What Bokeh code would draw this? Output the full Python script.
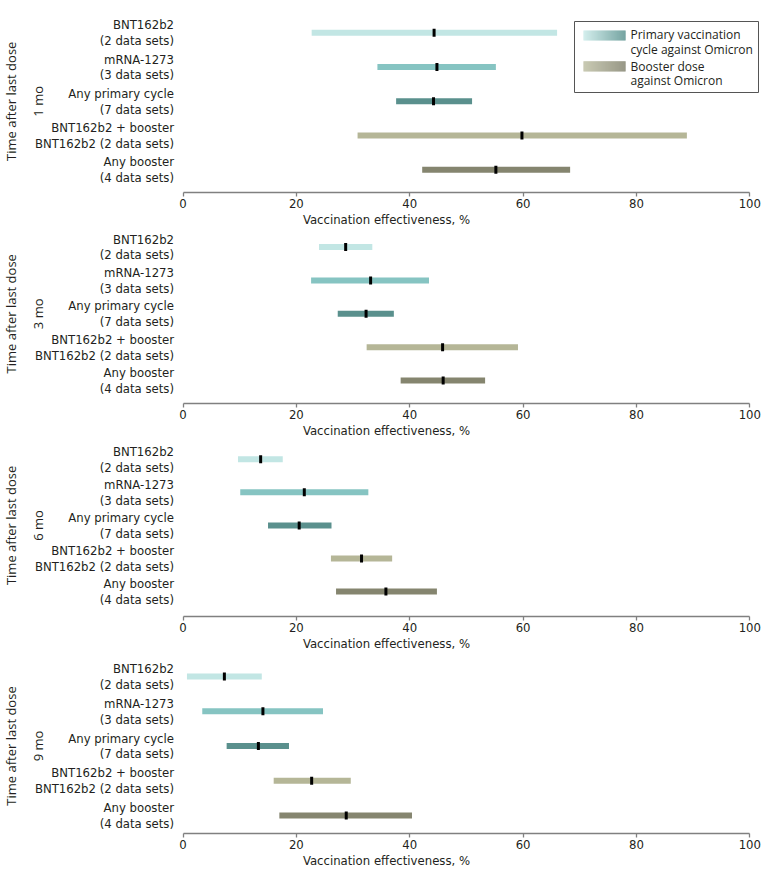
import numpy as np
from bokeh.plotting import figure
from bokeh.models import Range1d, FixedTicker, ColumnDataSource
from bokeh.layouts import column
from bokeh.embed import file_html
from bokeh.resources import INLINE
from bokeh.core.properties import value

# ---------------- data ----------------
panel_titles = ["1 mo", "3 mo", "6 mo", "9 mo"]
row_labels = [
    "BNT162b2\n(2 data sets)",
    "mRNA-1273\n(3 data sets)",
    "Any primary cycle\n(7 data sets)",
    "BNT162b2 + booster\nBNT162b2 (2 data sets)",
    "Any booster\n(4 data sets)",
]
row_colors = ["#c2e6e4", "#86c4c2", "#5a908d", "#b5b697", "#85856f"]

est_1mo = [44.3, 44.8, 44.2, 59.8, 55.2]
lo_1mo = [22.7, 34.3, 37.6, 30.8, 42.2]
hi_1mo = [66.0, 55.2, 51.0, 88.9, 68.3]

est_3mo = [28.7, 33.1, 32.3, 45.8, 45.9]
lo_3mo = [24.0, 22.6, 27.3, 32.4, 38.4]
hi_3mo = [33.4, 43.4, 37.2, 59.1, 53.3]

est_6mo = [13.7, 21.4, 20.5, 31.5, 35.8]
lo_6mo = [9.7, 10.1, 15.0, 26.1, 27.0]
hi_6mo = [17.6, 32.7, 26.2, 36.9, 44.8]

est_9mo = [7.3, 14.1, 13.3, 22.7, 28.8]
lo_9mo = [0.7, 3.4, 7.7, 16.0, 17.0]
hi_9mo = [13.9, 24.7, 18.7, 29.6, 40.4]

x_ticks = [0, 20, 40, 60, 80, 100]
x_title = "Vaccination effectiveness, %"
y_title = "Time after last dose"
legend_labels = ["Primary vaccination\ncycle against Omicron", "Booster dose\nagainst Omicron"]

panels = [
    (est_1mo, lo_1mo, hi_1mo),
    (est_3mo, lo_3mo, hi_3mo),
    (est_6mo, lo_6mo, hi_6mo),
    (est_9mo, lo_9mo, hi_9mo),
]

# ---------------- layout (pixels) ----------------
W = 772
X0_PX = 182.5          # canvas x of value 0
PX_PER_UNIT = 5.668
BOTTOM = 39
frame_heights = [192, 172, 174, 178]
first_row = [32.3, 15.5, 16.7, 21.0]
row_step = [34.25, 33.4, 33.1, 34.75]

COND = "DejaVu Sans Condensed"
REG = "Open Sans"
TXT = "#231f20"

xs = (0 - X0_PX) / PX_PER_UNIT
xe = (W - X0_PX) / PX_PER_UNIT

figs = []
for i, (est, lo, hi) in enumerate(panels):
    F = frame_heights[i]
    r0, s = first_row[i], row_step[i]
    rows = list(range(len(row_labels)))
    p = figure(width=W, height=F + BOTTOM, output_backend="svg", toolbar_location=None,
               x_range=Range1d(xs, xe), y_range=Range1d((F - r0) / s, -r0 / s),
               min_border_left=0, min_border_right=0, min_border_top=0,
               min_border_bottom=BOTTOM, y_axis_location=None)
    p.outline_line_color = None
    p.xgrid.visible = False
    p.ygrid.visible = False
    p.extra_x_ranges = {"px": Range1d(0, W)}
    p.extra_y_ranges = {"px": Range1d(F, 0)}

    ax = p.xaxis[0]
    ax.ticker = FixedTicker(ticks=x_ticks, minor_ticks=[])
    ax.bounds = (0, 100)
    ax.axis_line_color = "#808080"
    ax.axis_line_width = 1.3
    ax.major_tick_line_color = "#808080"
    ax.major_tick_line_width = 1.3
    ax.major_tick_out = 4
    ax.major_tick_in = 0
    ax.minor_tick_line_color = None
    ax.major_label_standoff = 2
    ax.major_label_text_font = COND
    ax.major_label_text_font_size = "13px"
    ax.major_label_text_color = TXT
    ax.axis_label = x_title
    ax.axis_label_text_font = COND
    ax.axis_label_text_font_size = "13px"
    ax.axis_label_text_font_style = "normal"
    ax.axis_label_text_color = TXT
    ax.axis_label_standoff = 1

    src = ColumnDataSource(dict(y=rows, est=est, lo=lo, hi=hi, color=row_colors, label=row_labels))
    p.segment(x0="lo", x1="hi", y0="y", y1="y", line_color="color", line_width=6,
              line_cap="butt", source=src)
    p.rect(x="est", y="y", width=3, height=8, width_units="screen", height_units="screen",
           fill_color="black", line_color=None, source=src)
    p.text(x=0, y="y", text="label", x_offset=-9, text_align="right", text_baseline="middle",
           text_font=value(COND), text_font_size="13px", text_color=TXT,
           text_line_height=1.05, source=src)

    # rotated side titles
    mid = (len(row_labels) - 1) / 2
    p.text(x=[10.5], y=[mid], text=[y_title], angle=np.pi / 2, x_range_name="px",
           text_align="center", text_baseline="middle", text_font=value(REG),
           text_font_size="13px", text_color=TXT)
    p.text(x=[37], y=[mid], text=[panel_titles[i]], angle=np.pi / 2, x_range_name="px",
           text_align="center", text_baseline="middle", text_font=value(REG),
           text_font_size="13px", text_color=TXT)

    if i == 0:
        # legend box
        p.quad(left=[574], right=[758], top=[21], bottom=[92], x_range_name="px",
               y_range_name="px", fill_color=None, line_color="#555555", line_width=1)
        grads = [((0xc6, 0xe9, 0xe7), (0x4f, 0x8a, 0x87), 30, 40, 41.5),
                 ((0xb9, 0xba, 0x9c), (0x7a, 0x7a, 0x65), 60.7, 71, 73)]
        for k, (c1, c2, top, bot, ty) in enumerate(grads):
            n = 42
            t = np.linspace(0, 1, n)
            cols = ["#%02x%02x%02x" % tuple(int(round(a + (b - a) * tt)) for a, b in zip(c1, c2))
                    for tt in t]
            left = 583 + np.arange(n)
            p.quad(left=left, right=left + 1.05, top=top, bottom=bot, fill_color=cols,
                   line_color=None, x_range_name="px", y_range_name="px")
            p.text(x=[630], y=[ty], text=[legend_labels[k]], x_range_name="px",
                   y_range_name="px", text_align="left", text_baseline="middle",
                   text_font=value(REG), text_font_size="12px", text_color=TXT,
                   text_line_height=0.83)
    figs.append(p)

layout = column(*figs, spacing=0)
open("out.html", "w").write(file_html(layout, INLINE))
